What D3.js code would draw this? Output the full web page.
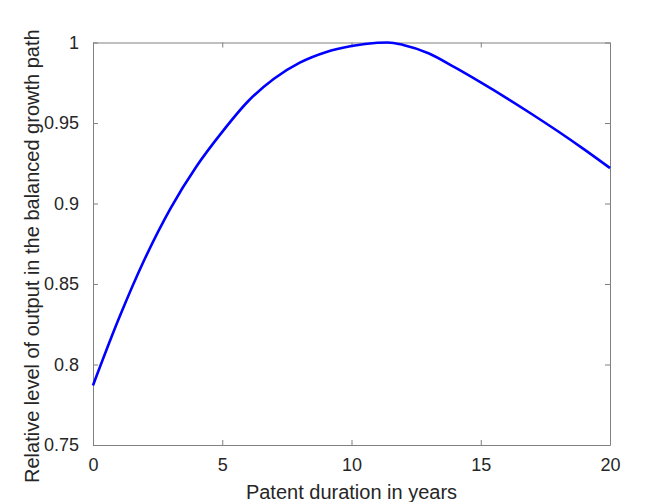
<!DOCTYPE html>
<html>
<head>
<meta charset="utf-8">
<script src="https://cdn.jsdelivr.net/npm/d3@7"></script>
<style>
  body { margin: 0; background: #fff; }
  text { font-family: "Liberation Sans", Arial, sans-serif; fill: #262626; }
</style>
</head>
<body>
<script>
// Patent duration (years) and relative output level
var patentYears = [0, 1, 2, 3, 4, 5, 6, 7, 8, 9, 10, 11, 11.4, 12, 13, 14, 15, 16, 17, 18, 19, 20];
var relOutput = [0.787, 0.8285, 0.8655, 0.897, 0.923, 0.9445, 0.9635, 0.9775, 0.9875, 0.994, 0.9978, 0.9998, 1.0,
                 0.9985, 0.9932, 0.9845, 0.9752, 0.9655, 0.9553, 0.9447, 0.9336, 0.922];

var xTicks = [0, 5, 10, 15, 20];
var yTicks = [0.75, 0.8, 0.85, 0.9, 0.95, 1];
var yTickLabels = ["0.75", "0.8", "0.85", "0.9", "0.95", "1"];

var W = 669, H = 502;
var margin = {top: 42.5, right: 59, bottom: 57, left: 93};
var width = W - margin.left - margin.right,
    height = H - margin.top - margin.bottom;

var x = d3.scaleLinear().domain([0, 20]).range([0, width]);
var y = d3.scaleLinear().domain([0.75, 1]).range([height, 0]);

var svg = d3.select("body").append("svg")
    .attr("width", W)
    .attr("height", H);

var g = svg.append("g")
    .attr("transform", "translate(" + margin.left + "," + margin.top + ")");

var tickLen = 5;
var axisColor = "#808080";

// bottom axis (ticks inside) + labels
var xb = g.append("g")
    .attr("transform", "translate(0," + height + ")")
    .call(d3.axisBottom(x).tickValues(xTicks).tickSizeInner(-tickLen).tickSizeOuter(0).tickPadding(13));
// top axis, ticks only
var xt = g.append("g")
    .call(d3.axisTop(x).tickValues(xTicks).tickSizeInner(-tickLen).tickSizeOuter(0).tickFormat(""));
// left axis
var yl = g.append("g")
    .call(d3.axisLeft(y).tickValues(yTicks).tickSizeInner(-tickLen).tickSizeOuter(0).tickPadding(14)
      .tickFormat(function(d, i) { return yTickLabels[i]; }));
// right axis, ticks only
var yr = g.append("g")
    .attr("transform", "translate(" + width + ",0)")
    .call(d3.axisRight(y).tickValues(yTicks).tickSizeInner(-tickLen).tickSizeOuter(0).tickFormat(""));

[xb, xt, yl, yr].forEach(function(a) {
  a.select(".domain").attr("stroke", axisColor);
  a.selectAll(".tick line").attr("stroke", axisColor);
  a.selectAll("text").style("font-size", "18px").attr("fill", "#262626");
});

// the line
var line = d3.line()
    .x(function(d, i) { return x(patentYears[i]); })
    .y(function(d) { return y(d); })
    .curve(d3.curveMonotoneX);

g.append("path")
    .datum(relOutput)
    .attr("fill", "none")
    .attr("stroke", "#0000ff")
    .attr("stroke-width", 2.6)
    .attr("d", line);

// axis labels
svg.append("text")
    .attr("x", margin.left + width / 2)
    .attr("y", 499)
    .attr("text-anchor", "middle")
    .style("font-size", "20px")
    .text("Patent duration in years");

svg.append("text")
    .attr("transform", "translate(39,483) rotate(-90)")
    .attr("text-anchor", "start")
    .style("font-size", "20px")
    .text("Relative level of output in the balanced growth path");
</script>
</body>
</html>
